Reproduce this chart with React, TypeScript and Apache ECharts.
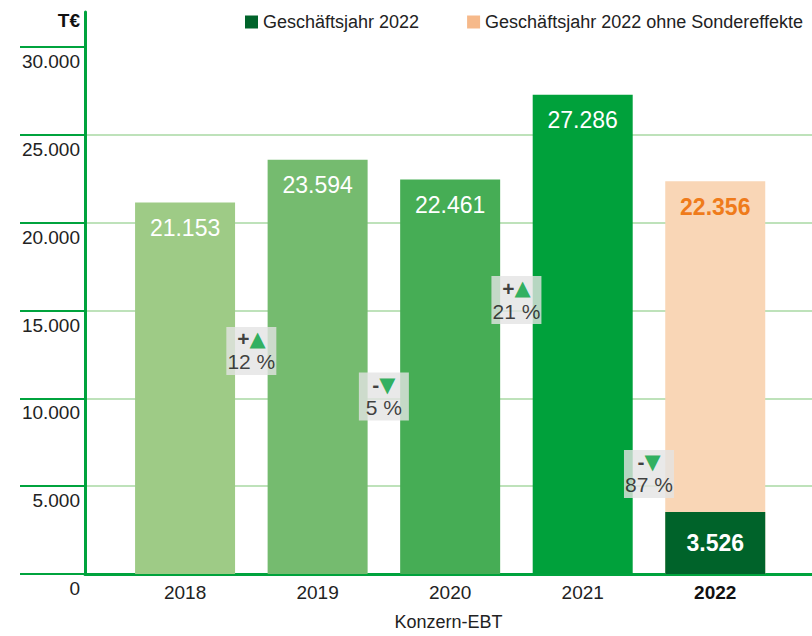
import React, { useEffect, useRef } from "react";
import * as echarts from "echarts";

const years = ["2018", "2019", "2020", "2021", "2022"];
const histValues = [21153, 23594, 22461, 27286];
const value2022 = 3526;
const value2022Adjusted = 22356;
const yTicks = [0, 5000, 10000, 15000, 20000, 25000, 30000];
// vertical anchors (in T€) of the grey change badges between the bars
const badgeAnchors = [12700, 10100, 15600, 5700];

const histColors = ["#9ecb86", "#75bb6f", "#46ad55", "#00a13b"];
const DARK = "#00632a";
const PEACH = "#f9d6b6";
const LEGEND_PEACH = "#f6b98a";
const ORANGE = "#ef7b1b";
const AXIS_GREEN = "#00a33d";
const GRID_GREEN = "#a9d9a3";
const FONT = '"Liberation Sans", Arial, sans-serif';

const fmt = (v: number) => String(Math.round(v)).replace(/\B(?=(\d{3})+(?!\d))/g, ".");

export default function App() {
  const ref = useRef<HTMLDivElement>(null);
  useEffect(() => {
    if (!ref.current) return;
    const chart = echarts.init(ref.current, undefined, { renderer: "svg" });
    const all = [...histValues, value2022];
    const changes = all.slice(1).map((v, i) => Math.round((v / all[i] - 1) * 100));

    chart.setOption({
      animation: false,
      textStyle: { fontFamily: FONT },
      legend: {
        top: 8,
        left: 240,
        width: 572,
        itemWidth: 13,
        itemHeight: 13,
        itemGap: 48,
        icon: "rect",
        textStyle: { fontSize: 18, color: "#222", fontFamily: FONT },
        data: [
          { name: "Geschäftsjahr 2022" },
          { name: "Geschäftsjahr 2022 ohne Sondereffekte", itemStyle: { color: LEGEND_PEACH } },
        ],
      },
      graphic: [
        {
          type: "text",
          x: 80,
          y: 20,
          style: {
            text: "T€",
            align: "right",
            verticalAlign: "middle",
            font: `bold 19px ${FONT}`,
            fill: "#111",
          },
        },
      ],
      grid: { left: 85, right: 0, top: 12, bottom: 58 },
      xAxis: {
        type: "value",
        min: -0.755,
        max: 4.73,
        splitLine: { show: false },
        axisTick: { show: false },
        axisLine: { show: true, onZero: false, lineStyle: { color: AXIS_GREEN, width: 3 } },
        axisLabel: {
          customValues: [0, 1, 2, 3, 4],
          margin: 9,
          fontSize: 19,
          color: "#222",
          fontFamily: FONT,
          formatter: (v: number) => {
            const y = years[Math.round(v)] ?? "";
            return Math.round(v) === 4 ? `{b|${y}}` : y;
          },
          rich: { b: { fontWeight: "bold", fontSize: 19, color: "#111", fontFamily: FONT } },
        },
        name: "Konzern-EBT",
        nameLocation: "middle",
        nameGap: 39,
        nameTextStyle: { fontSize: 18, color: "#222", fontFamily: FONT },
      },
      yAxis: {
        type: "value",
        min: 0,
        max: 32000,
        interval: 5000,
        axisLine: { show: true, onZero: false, lineStyle: { color: AXIS_GREEN, width: 3 } },
        axisTick: {
          show: true,
          customValues: yTicks,
          length: 65,
          inside: false,
          lineStyle: { color: AXIS_GREEN, width: 2 },
        },
        axisLabel: {
          customValues: yTicks,
          margin: 5,
          verticalAlign: "top",
          padding: [5, 0, 0, 0],
          fontSize: 19,
          color: "#222",
          fontFamily: FONT,
          formatter: (v: number) => fmt(v),
        },
        splitLine: {
          show: true,
          showMaxLine: false,
          lineStyle: { color: GRID_GREEN, width: 1.5 },
        },
      },
      series: [
        {
          type: "bar",
          name: "hist",
          barWidth: 100,
          barGap: "-100%",
          data: histValues.map((v, i) => ({ value: [i, v], itemStyle: { color: histColors[i] } })),
          label: {
            show: true,
            position: "insideTop",
            distance: 14,
            color: "#fff",
            fontSize: 23,
            fontFamily: FONT,
            formatter: (p: any) => fmt(p.value[1]),
          },
        },
        {
          type: "bar",
          name: "Geschäftsjahr 2022 ohne Sondereffekte",
          barWidth: 100,
          barGap: "-100%",
          itemStyle: { color: PEACH },
          data: [[4, value2022Adjusted]],
          label: {
            show: true,
            position: "insideTop",
            distance: 14,
            color: ORANGE,
            fontSize: 23,
            fontWeight: "bold",
            fontFamily: FONT,
            formatter: (p: any) => fmt(p.value[1]),
          },
        },
        {
          type: "bar",
          name: "Geschäftsjahr 2022",
          barWidth: 100,
          barGap: "-100%",
          itemStyle: { color: DARK },
          data: [[4, value2022]],
          label: {
            show: true,
            position: "inside",
            color: "#fff",
            fontSize: 23,
            fontWeight: "bold",
            fontFamily: FONT,
            formatter: (p: any) => fmt(p.value[1]),
          },
        },
        {
          type: "scatter",
          name: "changes",
          symbol: "rect",
          symbolSize: [50, 48],
          itemStyle: { color: "#e3e3e3" },
          z: 5,
          data: changes.map((c, i) => [i + 0.5, badgeAnchors[i], c]),
          label: {
            show: true,
            position: "inside",
            fontFamily: FONT,
            formatter: (p: any) => {
              const c = p.value[2];
              const sign = c >= 0 ? "+" : "-";
              const tri = c >= 0 ? "▲" : "▼";
              return `{s|${sign}}{t|${tri}}\n{p|${Math.abs(c)} %}`;
            },
            rich: {
              s: { fontSize: 21, fontWeight: "bold", color: "#111", fontFamily: FONT, lineHeight: 22 },
              t: { fontSize: 21, color: "#00a13b", fontFamily: "DejaVu Sans", lineHeight: 22 },
              p: { fontSize: 21, color: "#111", fontFamily: FONT, lineHeight: 24 },
            },
          },
        },
      ],
    });
    return () => chart.dispose();
  }, []);
  return (
    <div
      ref={ref}
      style={{ position: "fixed", left: 0, top: 0, width: 812, height: 636, background: "#fff" }}
    />
  );
}
